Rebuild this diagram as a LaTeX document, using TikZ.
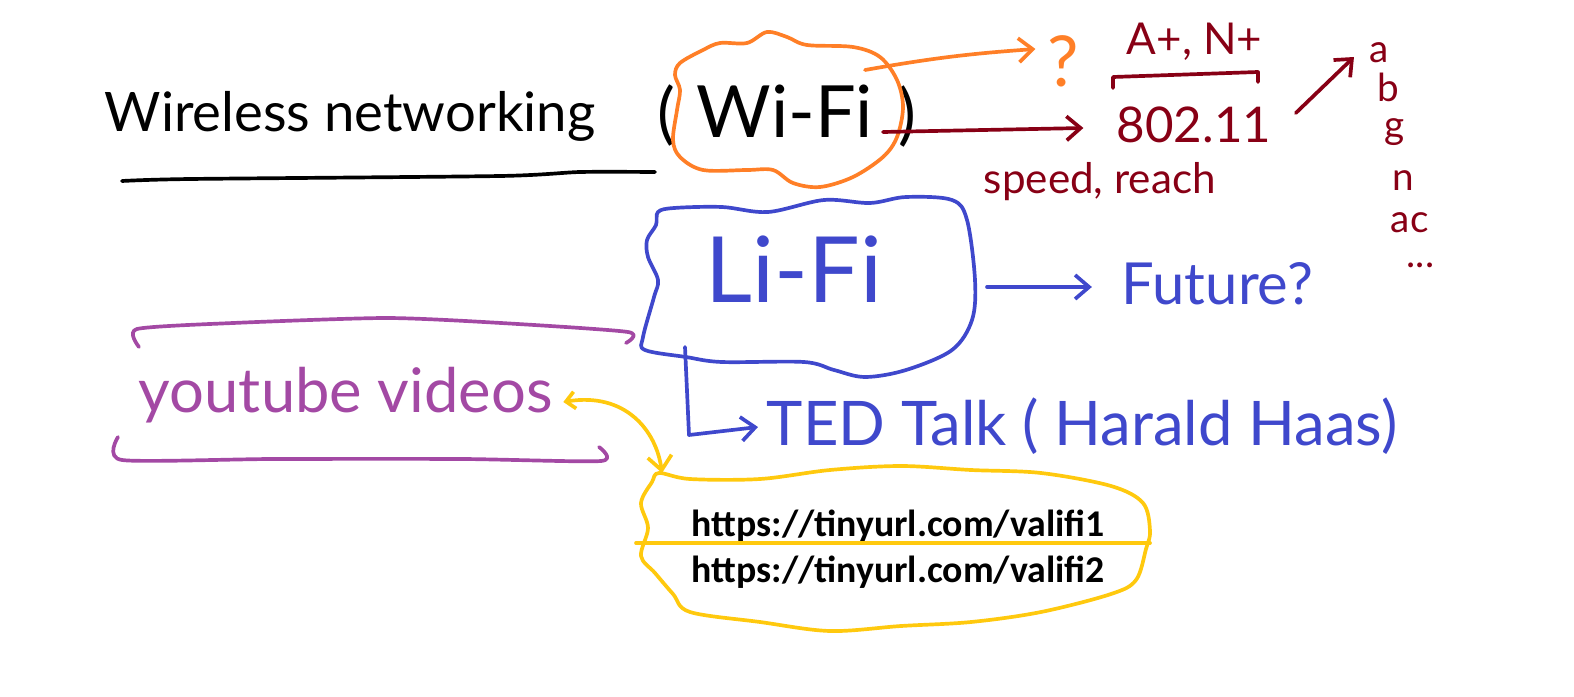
\documentclass[tikz,border=0pt]{standalone}
\usepackage{fontspec}
\setmainfont{Lato}
\newfontfamily\urlfont{Carlito}
\usetikzlibrary{arrows.meta,positioning}
\definecolor{penorange}{HTML}{FF7F27}
\definecolor{penred}{HTML}{880015}
\definecolor{penblue}{HTML}{3F48CC}
\definecolor{penpurple}{HTML}{A349A4}
\definecolor{pengold}{HTML}{FFC90E}
\newcommand{\handsize}[1]{\fontsize{#1}{#1}\selectfont}

\begin{document}
\begin{tikzpicture}[x=0.02cm,y=-0.02cm,line width=2.1pt,line cap=round,line join=round,
  txt/.style={inner sep=0pt,anchor=base west},
  arr/.style={-{Straight Barb[length=2.8mm,width=4.8mm]}},
  blob/.style={smooth cycle,tension=0.55}]
\useasboundingbox (0,0) rectangle (1574,696);
% Wi-Fi and its branches
\node[txt,font=\handsize{31}] (title) at (103,132) {Wireless networking};
\draw plot[smooth,tension=0.4] coordinates {(122,181) (190,179) (500,176) (580,172) (655,172)};
\node[txt,font=\handsize{41}] (wifi) at (695,137) {Wi-Fi};
\node[inner sep=0pt,font=\handsize{38}] (lpar) at (666,116) {(};
\node[inner sep=0pt,font=\handsize{38}] (rpar) at (907,117) {)};
\draw[penorange] plot[blob] coordinates {(680,63) (703,50) (720,43) (747,43) (767,32) (787,37) (807,45) (853,47) (880,57) (897,80) (903,107) (897,137) (883,157) (853,177) (820,187) (793,183) (773,170) (747,170) (703,170) (680,157) (673,140) (677,110) (680,90) (675,75)};
\node[txt,font=\handsize{40},text=penorange] (qmark) at (1046,87) {?};
\coordinate (wifiq) at (865,70);
\draw[arr,penorange] (wifiq) to[bend left=3] ([xshift=-6pt]qmark.north west |- 0,49);
\node[txt,font=\handsize{28},text=penred] (std) at (1115,142) {802.11};
\node[txt,font=\handsize{25},text=penred] (plus) at (1125,55) {A+, N+};
\draw[penred] (1113,88) -- (1113,77) -- (1258,72) -- (1258,82);
\node[txt,font=\handsize{24},text=penred] (speed) at (982,193) {speed, reach};
\coordinate (wifir) at (883,132);
\draw[arr,penred] (wifir) -- ([xshift=-18pt]std.west |- 0,128);
% 802.11 versions
\begin{scope}[every node/.style={txt,font=\handsize{22},text=penred}]
\node (va) at (1368,63) {a};
\node (vb) at (1376,102) {b};
\node (vg) at (1383,138) {g};
\node (vn) at (1391,190) {n};
\node (vac) at (1389,232) {ac};
\node (vdots) at (1405,267) {...};
\end{scope}
\draw[arr,penred] ([xshift=13pt]std.east |- 0,113) -- ([xshift=-8pt]va.west |- 0,57);
% Li-Fi and its branches
\draw[penblue] plot[blob] coordinates {(658,212) (674,208) (722,207) (768,212) (824,200) (870,203) (906,197) (952,200) (967,220) (975,280) (972,320) (952,350) (906,370) (865,377) (834,370) (804,362) (722,362) (686,357) (645,350) (643,337) (654,297) (658,280) (648,257) (647,240) (656,225)};
\node[txt,font=\handsize{52},text=penblue] (lifi) at (704,302) {Li-Fi};
\node[txt,font=\handsize{33},text=penblue] (future) at (1120,304) {Future?};
\node[txt,font=\handsize{35},text=penblue] (ted) at (765,445) {TED Talk ( Harald Haas)};
\coordinate (lifir) at (987,287);
\coordinate (lifib) at (685,347);
\draw[arr,penblue] (lifir) -- ([xshift=-16pt]future.west |- 0,287);
\draw[arr,penblue] (lifib) -- (689,435) -- ([xshift=-4pt]ted.west |- 0,427);
% youtube videos and links
\node[txt,font=\handsize{35},text=penpurple] (yt) at (137,412) {youtube videos};
\draw[penpurple] plot[smooth,tension=0.4] coordinates {(139,347) (137,329) (233,323) (386,318) (501,323) (628,332) (626,343)};
\draw[penpurple] plot[smooth,tension=0.4] coordinates {(118,437) (122,460) (272,459) (463,459) (601,461) (599,447)};
\draw[pengold] plot[blob] coordinates {(659,473) (690,479) (760,479) (830,470) (901,466) (971,470) (1041,473) (1111,486) (1143,503) (1150,531) (1146,549) (1136,580) (1111,594) (1041,612) (971,622) (901,626) (830,631) (760,622) (690,612) (673,594) (655,573) (641,556) (648,528) (641,503) (652,482)};
\node[txt,font=\urlfont\bfseries\handsize{21.5}] (url1) at (690,536) {https://tinyurl.com/valifi1};
\node[txt,font=\urlfont\bfseries\handsize{21.5}] (url2) at (690,582) {https://tinyurl.com/valifi2};
\draw[pengold] (636,543) -- (1150,543);
\draw[pengold,{Straight Barb[length=1.8mm,width=3.4mm]}-{Straight Barb[length=2.8mm,width=4.8mm]}]
  ([xshift=5pt]yt.east |- 0,402) .. controls (625,392) and (656,430) .. ([xshift=-0.56cm]url1.north west |- 0,473);
\end{tikzpicture}
\end{document}
